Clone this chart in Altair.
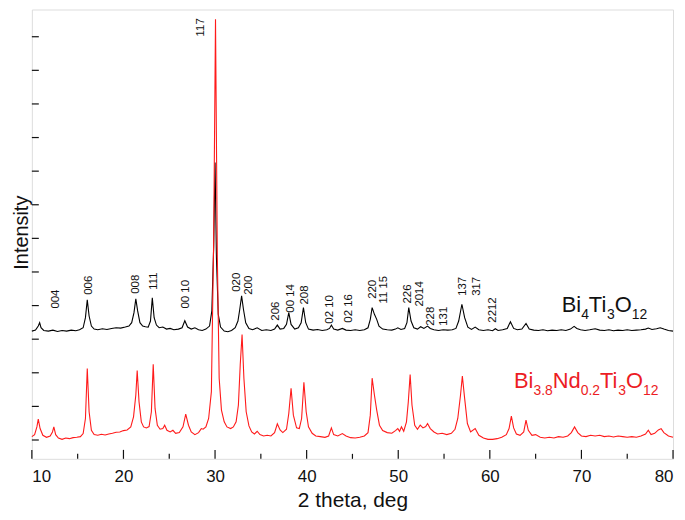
import altair as alt
import pandas as pd

FONT = "Liberation Sans"

# ---- XRD pattern of Bi4Ti3O12 (black, offset trace): (2theta, intensity a.u.)
BIT_PATTERN = [
    (10.0, 3.80), (10.4, 3.83), (10.7, 3.95), (10.85, 4.05), (11.0, 3.90), (11.3, 3.82),
    (11.8, 3.80), (12.3, 3.83), (12.8, 3.79), (13.3, 3.82), (13.8, 3.80), (14.3, 3.83),
    (14.8, 3.81), (15.2, 3.84), (15.6, 3.90), (15.85, 4.20), (16.05, 4.73), (16.25, 4.25),
    (16.5, 3.95), (16.8, 3.86), (17.2, 3.84), (17.7, 3.87), (18.2, 3.85), (18.7, 3.88),
    (19.2, 3.90), (19.7, 3.89), (20.2, 3.92), (20.6, 3.95), (20.9, 4.05), (21.15, 4.35),
    (21.35, 4.76), (21.55, 4.40), (21.8, 4.05), (22.1, 3.95), (22.4, 3.93), (22.7, 3.92),
    (22.95, 4.10), (23.15, 4.79), (23.35, 4.20), (23.6, 3.98), (23.9, 3.90), (24.3, 3.92),
    (24.7, 3.86), (25.1, 3.88), (25.5, 3.84), (26.0, 3.86), (26.4, 3.90), (26.7, 4.11),
    (27.0, 3.92), (27.4, 3.86), (27.8, 3.90), (28.2, 3.84), (28.6, 3.82), (29.0, 3.86),
    (29.4, 3.95), (29.65, 4.40), (29.85, 6.30), (30.0, 8.82), (30.15, 6.00), (30.35, 4.30),
    (30.6, 3.92), (31.0, 3.80), (31.4, 3.78), (31.8, 3.82), (32.2, 3.90), (32.5, 4.10),
    (32.7, 4.45), (32.9, 4.85), (33.1, 4.45), (33.35, 4.05), (33.7, 3.88), (34.1, 3.84),
    (34.6, 3.90), (35.1, 3.82), (35.6, 3.84), (36.1, 3.82), (36.5, 3.86), (36.8, 3.98),
    (37.1, 3.86), (37.5, 3.88), (37.8, 4.00), (38.05, 4.35), (38.3, 4.00), (38.7, 3.86),
    (39.1, 3.90), (39.4, 4.05), (39.65, 4.50), (39.9, 4.05), (40.2, 3.86), (40.7, 3.83),
    (41.2, 3.85), (41.7, 3.82), (42.2, 3.84), (42.5, 3.88), (42.7, 3.98), (42.95, 3.86),
    (43.4, 3.83), (43.9, 3.88), (44.3, 3.83), (44.8, 3.82), (45.3, 3.84), (45.8, 3.82),
    (46.3, 3.84), (46.7, 3.90), (46.95, 4.15), (47.15, 4.50), (47.4, 4.30), (47.65, 4.15),
    (47.9, 3.95), (48.3, 3.86), (48.8, 3.84), (49.3, 3.83), (49.7, 3.86), (49.95, 3.90),
    (50.3, 3.85), (50.7, 3.88), (50.95, 4.05), (51.15, 4.50), (51.4, 4.10), (51.7, 3.90),
    (52.1, 3.86), (52.45, 3.93), (52.8, 3.88), (53.2, 3.95), (53.5, 3.88), (53.9, 3.84),
    (54.4, 3.82), (54.9, 3.84), (55.4, 3.83), (55.9, 3.84), (56.3, 3.88), (56.6, 4.10),
    (56.95, 4.60), (57.25, 4.20), (57.6, 3.92), (58.0, 3.85), (58.4, 3.92), (58.8, 3.84),
    (59.3, 3.82), (59.8, 3.84), (60.3, 3.81), (60.6, 3.87), (60.9, 3.82), (61.4, 3.84),
    (61.9, 3.88), (62.25, 4.08), (62.6, 3.88), (63.0, 3.84), (63.5, 3.86), (63.95, 4.03),
    (64.3, 3.86), (64.8, 3.83), (65.3, 3.82), (65.8, 3.84), (66.3, 3.81), (66.8, 3.83),
    (67.3, 3.82), (67.8, 3.84), (68.3, 3.82), (68.8, 3.86), (69.2, 3.94), (69.5, 3.88),
    (69.9, 3.84), (70.4, 3.82), (70.9, 3.84), (71.5, 3.87), (72.0, 3.83), (72.5, 3.82),
    (73.0, 3.84), (73.5, 3.81), (74.0, 3.83), (74.5, 3.82), (75.0, 3.84), (75.5, 3.82),
    (76.0, 3.83), (76.5, 3.84), (77.0, 3.86), (77.3, 3.89), (77.7, 3.85), (78.2, 3.87),
    (78.6, 3.90), (79.0, 3.86), (79.5, 3.82), (80.0, 3.80),
]

# ---- XRD pattern of Bi3.8Nd0.2Ti3O12 (red trace)
BNT_PATTERN = [
    (10.0, 0.66), (10.3, 0.72), (10.55, 0.95), (10.7, 1.18), (10.9, 0.90), (11.2, 0.70),
    (11.6, 0.64), (12.0, 0.68), (12.25, 0.80), (12.4, 0.95), (12.6, 0.72), (12.9, 0.62),
    (13.3, 0.58), (13.7, 0.62), (14.1, 0.60), (14.5, 0.63), (14.9, 0.64), (15.3, 0.66),
    (15.6, 0.75), (15.85, 1.20), (16.05, 2.69), (16.25, 1.40), (16.5, 0.85), (16.8, 0.72),
    (17.2, 0.70), (17.6, 0.73), (18.0, 0.71), (18.4, 0.74), (18.8, 0.76), (19.2, 0.79),
    (19.6, 0.80), (20.0, 0.84), (20.4, 0.86), (20.8, 0.95), (21.1, 1.25), (21.35, 1.90),
    (21.5, 2.63), (21.7, 1.70), (21.95, 1.10), (22.2, 0.95), (22.5, 0.92), (22.8, 0.96),
    (23.05, 1.40), (23.25, 2.81), (23.45, 1.50), (23.7, 1.00), (24.0, 0.88), (24.3, 0.90),
    (24.5, 1.00), (24.75, 0.85), (25.1, 0.80), (25.4, 0.85), (25.7, 0.76), (26.1, 0.78),
    (26.5, 0.95), (26.8, 1.33), (27.1, 1.00), (27.4, 0.80), (27.8, 0.72), (28.2, 0.78),
    (28.5, 0.90), (28.7, 0.88), (29.0, 0.95), (29.3, 1.20), (29.6, 2.00), (29.85, 6.50),
    (30.05, 13.08), (30.25, 6.00), (30.45, 2.40), (30.7, 1.45), (31.0, 1.10), (31.3, 0.95),
    (31.7, 0.90), (32.0, 0.95), (32.3, 1.10), (32.55, 1.60), (32.75, 2.80), (32.95, 3.70),
    (33.15, 2.40), (33.4, 1.40), (33.7, 0.98), (34.0, 0.80), (34.3, 0.74), (34.6, 0.82),
    (34.9, 0.72), (35.3, 0.68), (35.7, 0.70), (36.1, 0.68), (36.5, 0.78), (36.8, 1.04),
    (37.1, 0.86), (37.4, 0.78), (37.8, 0.88), (38.05, 1.35), (38.3, 2.10), (38.55, 1.30),
    (38.9, 0.92), (39.2, 0.90), (39.45, 1.20), (39.7, 2.28), (39.95, 1.40), (40.2, 0.95),
    (40.6, 0.76), (41.0, 0.68), (41.5, 0.66), (42.0, 0.64), (42.4, 0.68), (42.7, 0.92),
    (42.95, 0.72), (43.4, 0.68), (43.9, 0.75), (44.3, 0.68), (44.8, 0.63), (45.3, 0.62),
    (45.8, 0.64), (46.3, 0.68), (46.7, 0.78), (46.95, 1.30), (47.15, 2.40), (47.4, 1.90),
    (47.65, 1.45), (47.95, 1.00), (48.3, 0.84), (48.8, 0.78), (49.3, 0.76), (49.7, 0.84),
    (49.95, 0.90), (50.15, 0.82), (50.35, 0.95), (50.6, 0.82), (50.9, 1.10), (51.1, 1.70),
    (51.3, 2.51), (51.5, 1.60), (51.8, 1.00), (52.1, 0.88), (52.4, 1.00), (52.7, 0.92),
    (53.0, 0.96), (53.2, 1.05), (53.5, 0.90), (53.9, 0.80), (54.3, 0.74), (54.8, 0.76),
    (55.3, 0.72), (55.8, 0.76), (56.2, 0.88), (56.5, 1.20), (56.8, 1.90), (57.0, 2.46),
    (57.25, 1.80), (57.55, 1.05), (57.9, 0.80), (58.4, 0.90), (58.8, 0.70), (59.3, 0.62),
    (59.8, 0.58), (60.3, 0.58), (60.8, 0.60), (61.3, 0.64), (61.8, 0.72), (62.1, 0.90),
    (62.35, 1.27), (62.6, 0.92), (62.9, 0.74), (63.3, 0.70), (63.7, 0.80), (63.95, 1.15),
    (64.2, 0.85), (64.6, 0.70), (65.0, 0.72), (65.5, 0.64), (66.0, 0.62), (66.5, 0.64),
    (67.0, 0.62), (67.5, 0.66), (68.0, 0.64), (68.5, 0.68), (68.9, 0.78), (69.25, 0.95),
    (69.6, 0.78), (70.0, 0.68), (70.5, 0.66), (71.0, 0.70), (71.5, 0.68), (72.0, 0.70),
    (72.5, 0.66), (73.0, 0.68), (73.5, 0.65), (74.0, 0.68), (74.5, 0.66), (75.0, 0.64),
    (75.5, 0.66), (76.0, 0.64), (76.5, 0.68), (77.0, 0.74), (77.3, 0.85), (77.6, 0.72),
    (78.0, 0.76), (78.4, 0.86), (78.7, 0.90), (79.0, 0.78), (79.5, 0.68), (80.0, 0.64),
]

# ---- Miller-index peak labels: text, 2theta, intensity at the label's foot
PEAK_LABELS = ["004", "006", "008", "111", "00 10", "117", "020", "200", "206", "00 14",
               "208", "02 10", "02 16", "220", "11 15", "226", "2014", "228", "131",
               "137", "317", "2212"]
PEAK_THETA = [12.6, 16.2, 21.4, 23.3, 26.8, 28.5, 32.4, 33.7, 36.7, 38.3,
              39.8, 42.6, 44.6, 47.2, 48.5, 51.1, 52.4, 53.6, 55.0,
              57.1, 58.6, 60.3]
PEAK_LEVEL = [4.47, 4.88, 4.91, 5.03, 4.47, 12.57, 4.97, 4.88, 4.11, 4.35,
              4.59, 4.02, 4.05, 4.76, 4.62, 4.62, 4.53, 3.96, 3.96,
              4.85, 4.85, 4.05]

X_LABEL_VALUES = [10, 20, 30, 40, 50, 60, 70, 80]
X_MINOR_VALUES = [15, 25, 35, 45, 55, 65, 75]
Y_TICK_VALUES = [0.56, 1.56, 2.56, 3.56, 4.56, 5.56, 6.56, 7.56, 8.56, 9.56, 10.56, 11.56, 12.56]

BIT_FORMULA = [("Bi", 0), ("4", 1), ("Ti", 0), ("3", 1), ("O", 0), ("12", 1)]
BNT_FORMULA = [("Bi", 0), ("3.8", 1), ("Nd", 0), ("0.2", 1), ("Ti", 0), ("3", 1), ("O", 0), ("12", 1)]

W, H = 645, 452

bit = pd.DataFrame(BIT_PATTERN, columns=["theta", "I"])
bnt = pd.DataFrame(BNT_PATTERN, columns=["theta", "I"])
labels = pd.DataFrame({"label": PEAK_LABELS, "theta": PEAK_THETA, "I": PEAK_LEVEL})
xmaj = pd.DataFrame({"theta": X_LABEL_VALUES})
xmin = pd.DataFrame({"theta": X_MINOR_VALUES})
yt = pd.DataFrame({"I": Y_TICK_VALUES})
one = pd.DataFrame({"k": [0]})

xscale = alt.Scale(domain=[10, 80], nice=False, zero=False)
yscale = alt.Scale(domain=[0, 13.37], nice=False, zero=False)

xaxis = alt.Axis(values=X_LABEL_VALUES, ticks=False, grid=False, domain=False,
                 labelFontSize=17, labelFont=FONT, labelColor="#111", labelPadding=10,
                 title="2 theta, deg", titleFontSize=21, titleFont=FONT, titleFontWeight="normal",
                 titleColor="#111", titleY=42, titleBaseline="middle")
yaxis = alt.Axis(labels=False, ticks=False, grid=False, domain=False,
                 title="Intensity", titleFontSize=20, titleFont=FONT, titleFontWeight="normal",
                 titleColor="#111", titleX=-10, titleY=224, titleAngle=270,
                 titleAlign="center", titleBaseline="middle")

X = alt.X("theta:Q", scale=xscale, axis=xaxis)
Y = alt.Y("I:Q", scale=yscale, axis=yaxis)

black_line = alt.Chart(bit).mark_line(color="#000000", strokeWidth=1.1).encode(x=X, y=Y)
red_line = alt.Chart(bnt).mark_line(color="#ff1a1a", strokeWidth=1.1).encode(x=X, y=Y)

peak_text = alt.Chart(labels).mark_text(
    angle=270, align="left", baseline="middle", fontSize=11.5, font=FONT, color="#111"
).encode(x=X, y=Y, text="label:N")

x_major = alt.Chart(xmaj).mark_rule(color="#111", strokeWidth=1.2).encode(
    x=X, y=alt.value(H - 9), y2=alt.value(H))
x_minor = alt.Chart(xmin).mark_rule(color="#111", strokeWidth=1.2).encode(
    x=X, y=alt.value(H - 5), y2=alt.value(H))
y_ticks = alt.Chart(yt).mark_rule(color="#111", strokeWidth=1.2).encode(
    y=Y, x=alt.value(0), x2=alt.value(7))

CW = {"B": 0.667, "i": 0.222, "T": 0.611, "O": 0.778, "N": 0.722, "d": 0.556, ".": 0.278}


def text_width(s, fs):
    return sum(CW.get(c, 0.556) for c in s) * fs


def formula(pieces, x0, y0, color, big=22, small=14, drop=7):
    out = []
    x = x0
    for txt, sub in pieces:
        fs = small if sub else big
        out.append(
            alt.Chart(one).mark_text(text=txt, align="left", baseline="alphabetic",
                                     fontSize=fs, font=FONT, color=color)
            .encode(x=alt.value(x), y=alt.value(y0 + (drop if sub else 0)))
        )
        x += text_width(txt, fs)
    return out


legend_layers = formula(BIT_FORMULA, 533, 304, "#111") + formula(BNT_FORMULA, 485, 381, "#ec1c24")

chart = alt.layer(
    black_line, red_line, peak_text, x_major, x_minor, y_ticks, *legend_layers
).properties(
    width=W, height=H,
    autosize=alt.AutoSizeParams(type="none"),
    padding={"left": 24, "top": 0, "right": 4, "bottom": 56},
).configure_view(
    stroke="#111", strokeWidth=1.4
).configure(background="white")

chart.save("out.html", embed_options={"renderer": "svg", "actions": False})
